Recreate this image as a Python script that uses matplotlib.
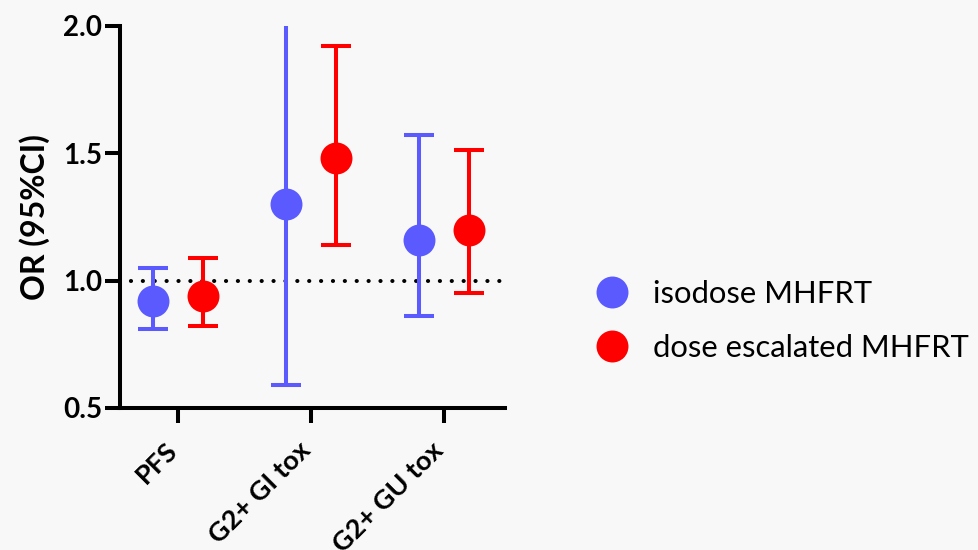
import matplotlib
matplotlib.use("Agg")
import matplotlib.pyplot as plt
import matplotlib.transforms as mtransforms
from matplotlib.lines import Line2D
import numpy as np

categories = ["PFS", "G2+ GI tox", "G2+ GU tox"]
series_names = ["isodose MHFRT", "dose escalated MHFRT"]
iso_or = [0.92, 1.30, 1.16]
iso_lo = [0.81, 0.59, 0.86]
iso_hi = [1.05, 2.30, 1.57]
esc_or = [0.94, 1.48, 1.20]
esc_lo = [0.82, 1.14, 0.95]
esc_hi = [1.09, 1.92, 1.51]
yticks = [0.5, 1.0, 1.5, 2.0]

plt.rcParams['font.family'] = ['Lato', 'DejaVu Sans']
bg = '#f8f8f8'
fig = plt.figure(figsize=(9.79, 5.5), dpi=100, facecolor=bg)
ax = fig.add_axes([120/979, 1-408/550, 385/979, (408-25.5)/550], facecolor=bg)

blue = '#5a5aff'
red = '#ff0000'
x = np.arange(len(categories))
off = 0.19

def draw(xs, ys, lo, hi, color, label):
    ys = np.array(ys); lo = np.array(lo); hi = np.array(hi)
    ax.errorbar(xs, ys, yerr=[ys - lo, hi - ys], fmt='none', ecolor=color,
                elinewidth=2.9, capsize=11, capthick=2.9, zorder=3, clip_on=True)
    ax.plot(xs, ys, 'o', color=color, markersize=23, markeredgewidth=0,
            label=label, zorder=4)

ax.plot([-0.44, 2.46], [1.0, 1.0], color='black', lw=2.9,
        linestyle=(0, (0.05, 2.9)), dash_capstyle='round', zorder=2, clip_on=False)

draw(x - off, iso_or, iso_lo, iso_hi, blue, series_names[0])
draw(x + off, esc_or, esc_lo, esc_hi, red, series_names[1])

ax.set_xlim(-0.436, 2.459)
ax.set_ylim(0.5, 2.0)
ax.set_yticks(yticks)
ax.set_yticklabels([f"{v:.1f}" for v in yticks], fontsize=20, fontweight='bold')
ax.set_xticks(x)
ax.set_xticklabels(categories, fontsize=19.5, fontweight='bold', rotation=45,
                   ha='right', rotation_mode='anchor')
ax.set_ylabel("OR (95%CI)", fontsize=23, fontweight='bold', labelpad=9)

for s in ['top', 'right']:
    ax.spines[s].set_visible(False)
for s in ['left', 'bottom']:
    ax.spines[s].set_linewidth(2.9)
ax.tick_params(axis='both', width=2.9, length=11, pad=2)
ax.tick_params(axis='x', pad=10)

shift = mtransforms.ScaledTranslation(-13/100, -1/100, fig.dpi_scale_trans)
for lbl in ax.get_xticklabels():
    lbl.set_transform(lbl.get_transform() + shift)

handles = [Line2D([], [], marker='o', color=c, linestyle='none', markersize=23, markeredgewidth=0)
           for c in (blue, red)]
fig.legend(handles, series_names, loc='center left', bbox_to_anchor=(566/979, 1-321/550),
           frameon=False, fontsize=22.3, handletextpad=0.7, labelspacing=0.85,
           handlelength=1.2)

fig.savefig("out.png", dpi=100, facecolor=bg)
